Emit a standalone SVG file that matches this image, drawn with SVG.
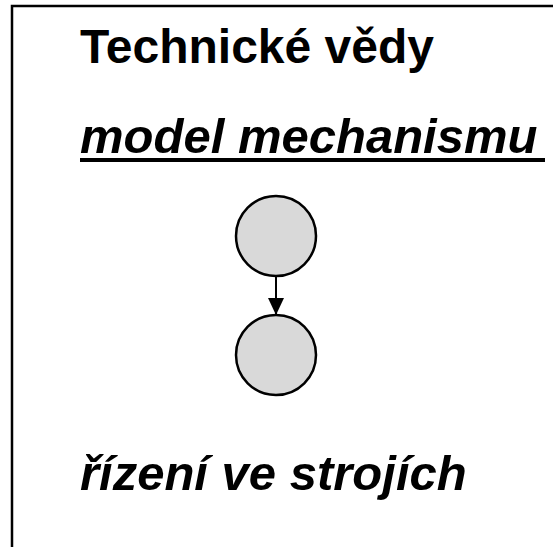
<svg xmlns="http://www.w3.org/2000/svg" width="553" height="547" viewBox="0 0 553 547">
  <style>
    .frame { fill: none; stroke: #000; stroke-width: 2.5; }
    .title { font-family: "Liberation Sans", Arial, sans-serif; font-weight: bold; fill: #000; }
    .it { font-style: italic; }
    .node { fill: #d9d9d9; stroke: #000; stroke-width: 2.5; }
    .edge { stroke: #000; stroke-width: 2; fill: none; }
  </style>
  <defs>
    <marker id="arrow" markerWidth="17" markerHeight="16" refX="17" refY="8" orient="auto" markerUnits="userSpaceOnUse">
      <path d="M0,0 L17,8 L0,16 Z" fill="#000"/>
    </marker>
  </defs>
  <rect width="553" height="547" fill="#fff"/>
  <path class="frame" d="M12,547 L12,6 L553,6"/>

  <text class="title" x="80" y="63" font-size="48">Technické vědy</text>
  <text class="title it" x="80" y="153" font-size="49">model mechanismu</text>
  <rect x="80" y="158" width="465" height="4" fill="#000"/>

  <g id="node-top">
    <circle class="node" cx="276" cy="236" r="40"/>
  </g>
  <g id="node-bottom">
    <circle class="node" cx="276" cy="355" r="40"/>
  </g>
  <g id="connectors">
    <line class="edge" x1="276" y1="276" x2="276" y2="315" marker-end="url(#arrow)"/>
  </g>

  <text class="title it" x="80" y="490" font-size="49">řízení ve strojích</text>
</svg>
